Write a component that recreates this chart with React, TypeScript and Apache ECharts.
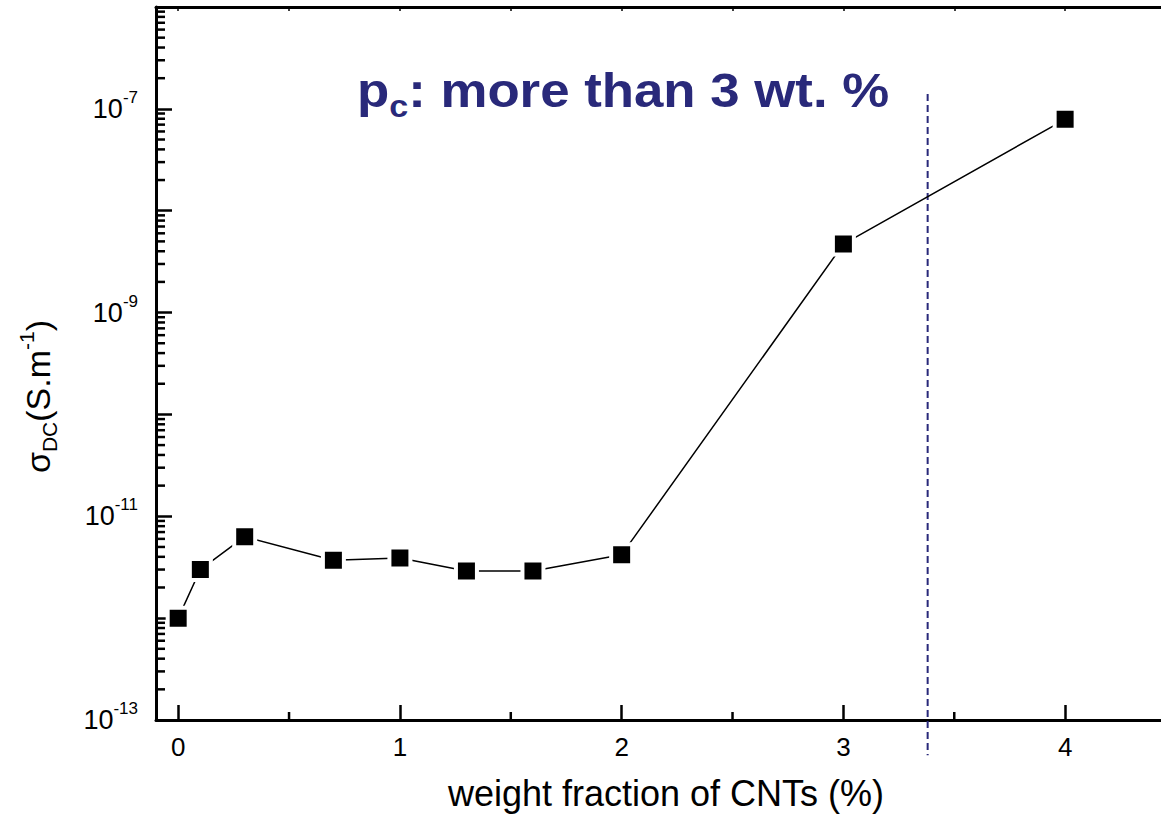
import React, { useEffect, useRef } from 'react';
import * as echarts from 'echarts';

// ---- data ----
const cntFraction = [0, 0.1, 0.3, 0.7, 1.0, 1.3, 1.6, 2.0, 3.0, 4.0];
const sigmaDC = [1.0e-12, 3.0e-12, 6.3e-12, 3.7e-12, 3.9e-12, 2.9e-12, 2.9e-12, 4.2e-12, 4.7e-9, 7.9e-8];

const xMin = -0.1;
const xMax = 4.5;
const xTicks = [0, 1, 2, 3, 4];
const xMinorTicks = [0.5, 1.5, 2.5, 3.5];
const xTopTicks = [0, 0.5, 1, 1.5, 2, 2.5, 3, 3.5, 4, 4.5];

const yMinExp = -13;
const yMaxExp = -6;
const yLabelExponents = [-13, -11, -9, -7];
const minorMultipliers = [2, 3, 4, 5, 6, 7, 8, 9];

const percolationX = 3.38;
const percolationTop = 1.4e-7;
const percolationBottom = 4.5e-14;

const titleMain = 'p';
const titleSub = 'c';
const titleRest = ': more than 3 wt. %';
const xName = 'weight fraction of CNTs (%)';

const FONT = 'Liberation Sans, Arial, Helvetica, sans-serif';
const NAVY = '#29297a';

export default function App() {
  const ref = useRef<HTMLDivElement>(null);

  useEffect(() => {
    if (!ref.current) return;
    const chart = echarts.init(ref.current, null, { renderer: 'svg' });

    const lineData = cntFraction.map((x, i) => [x, Math.log10(sigmaDC[i])]);

    const yMinorData: number[][] = [];
    for (let e = yMinExp; e < yMaxExp; e++) {
      minorMultipliers.forEach((k) => yMinorData.push([xMin, e + Math.log10(k)]));
    }
    const xMinorData = xMinorTicks.map((x) => [x, yMinExp]);

    const option: any = {
      animation: false,
      backgroundColor: '#ffffff',
      grid: { left: 156, top: 7, right: 24, bottom: 101, containLabel: false, outerBoundsMode: 'none' },
      graphic: [
        {
          type: 'text',
          x: 357,
          y: 58,
          scaleX: 1.1,
          z: 100,
          style: {
            text: `{p|${titleMain}}{c|${titleSub}}{p|${titleRest}}`,
            align: 'left',
            verticalAlign: 'top',
            rich: {
              p: { fontSize: 48, fontWeight: 'bold', fontFamily: FONT, fill: NAVY, lineHeight: 64 },
              c: { fontSize: 31, fontWeight: 'bold', fontFamily: FONT, fill: NAVY, lineHeight: 16, verticalAlign: 'bottom' },
            },
          },
        },
      ],
      xAxis: [
        {
          type: 'value',
          position: 'bottom',
          min: xMin,
          max: xMax,
          splitLine: { show: false },
          axisLine: { show: true, onZero: false, lineStyle: { color: '#000', width: 3 } },
          axisTick: { show: true, inside: true, length: 15, customValues: xTicks, lineStyle: { color: '#000', width: 2.5 } },
          axisLabel: { customValues: xTicks, fontSize: 26, color: '#000', fontFamily: FONT, margin: 14 },
          name: xName,
          nameLocation: 'middle',
          nameGap: 55,
          nameTextStyle: { fontSize: 36, color: '#000', fontFamily: FONT },
        },
        {
          type: 'value',
          position: 'top',
          min: xMin,
          max: xMax,
          splitLine: { show: false },
          axisLine: { show: true, onZero: false, lineStyle: { color: '#000', width: 3 } },
          axisTick: { show: true, inside: true, length: 4, customValues: xTopTicks, lineStyle: { color: '#000', width: 1.5 } },
          axisLabel: { show: false },
        },
      ],
      yAxis: [
        {
          type: 'value',
          min: yMinExp,
          max: yMaxExp,
          interval: 1,
          splitLine: { show: false },
          axisLine: { show: true, onZero: false, lineStyle: { color: '#000', width: 3 } },
          axisTick: { show: true, inside: true, length: 16, lineStyle: { color: '#000', width: 2.5 } },
          axisLabel: {
            margin: 18,
            formatter: (v: number) => {
              const e = Math.round(v);
              return yLabelExponents.indexOf(e) >= 0 ? `{b|10}{s|${e}}` : '';
            },
            rich: {
              b: { fontSize: 27, fontFamily: FONT, color: '#000', lineHeight: 40 },
              s: { fontSize: 17, fontFamily: FONT, color: '#000', lineHeight: 15, verticalAlign: 'top' },
            },
          },
          name: '{a|σ}{sub|DC}{a|(S.m}{sup|-1}{a|)}',
          nameLocation: 'middle',
          nameRotate: 90,
          nameGap: 96,
          nameTextStyle: {
            padding: [0, 66, 0, 0],
            rich: {
              a: { fontSize: 34, fontFamily: FONT, color: '#000', lineHeight: 44 },
              sub: { fontSize: 21, fontFamily: FONT, color: '#000', lineHeight: 16, verticalAlign: 'bottom' },
              sup: { fontSize: 21, fontFamily: FONT, color: '#000', lineHeight: 16, verticalAlign: 'top' },
            },
          },
        },
      ],
      series: [
        {
          type: 'custom',
          name: 'yMinorTicks',
          xAxisIndex: 0,
          yAxisIndex: 0,
          clip: false,
          silent: true,
          z: 1,
          data: yMinorData,
          renderItem: (params: any, api: any) => {
            const p = api.coord([api.value(0), api.value(1)]);
            return {
              type: 'line',
              shape: { x1: p[0], y1: p[1], x2: p[0] + 9, y2: p[1] },
              style: { stroke: '#000', lineWidth: 2.5 },
            };
          },
        },
        {
          type: 'custom',
          name: 'xMinorTicks',
          xAxisIndex: 0,
          yAxisIndex: 0,
          clip: false,
          silent: true,
          z: 1,
          data: xMinorData,
          renderItem: (params: any, api: any) => {
            const p = api.coord([api.value(0), api.value(1)]);
            return {
              type: 'line',
              shape: { x1: p[0], y1: p[1], x2: p[0], y2: p[1] - 8 },
              style: { stroke: '#000', lineWidth: 2.5 },
            };
          },
        },
        {
          type: 'custom',
          name: 'percolation',
          xAxisIndex: 0,
          yAxisIndex: 0,
          clip: false,
          silent: true,
          z: 1,
          dimensions: ['x', 'yTop', 'yBottom'],
          encode: { x: 0, y: [1, 2] },
          data: [[percolationX, Math.log10(percolationTop), Math.log10(percolationBottom)]],
          renderItem: (params: any, api: any) => {
            const a = api.coord([api.value(0), api.value(1)]);
            const b = api.coord([api.value(0), api.value(2)]);
            return {
              type: 'line',
              shape: { x1: a[0], y1: a[1], x2: b[0], y2: b[1] },
              style: { stroke: NAVY, lineWidth: 2, lineDash: [7, 4] },
            };
          },
        },
        {
          type: 'line',
          name: 'sigmaDC',
          xAxisIndex: 0,
          yAxisIndex: 0,
          z: 3,
          data: lineData,
          symbol: 'rect',
          symbolSize: 21,
          showSymbol: true,
          lineStyle: { color: '#000', width: 1.5 },
          itemStyle: { color: '#000', borderColor: '#fff', borderWidth: 4 },
          emphasis: { disabled: true },
        },
      ],
    };

    chart.setOption(option);
    return () => chart.dispose();
  }, []);

  return (
    <div
      style={{
        position: 'fixed',
        left: 0,
        top: 0,
        width: 1161,
        height: 821,
        overflow: 'hidden',
        background: '#fff',
      }}
    >
      <div ref={ref} style={{ width: 1200, height: 821 }} />
    </div>
  );
}
